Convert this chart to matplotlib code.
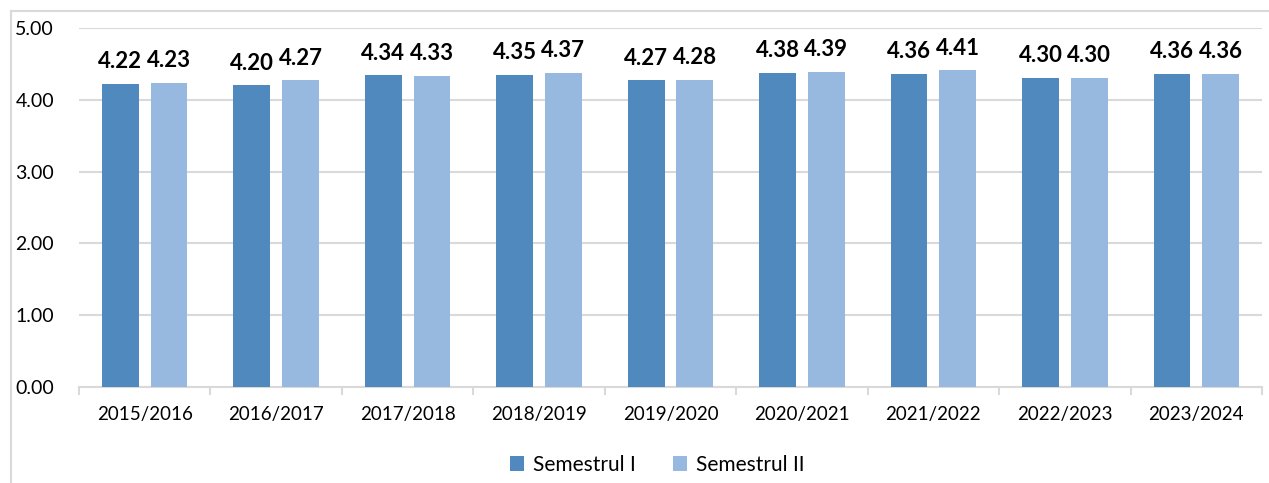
import matplotlib
matplotlib.use("Agg")
import matplotlib.pyplot as plt
from matplotlib.lines import Line2D
from matplotlib.patches import Patch
import numpy as np

categories = ["2015/2016", "2016/2017", "2017/2018", "2018/2019", "2019/2020",
              "2020/2021", "2021/2022", "2022/2023", "2023/2024"]
sem1 = [4.22, 4.20, 4.34, 4.35, 4.27, 4.38, 4.36, 4.30, 4.36]
sem2 = [4.23, 4.27, 4.33, 4.37, 4.28, 4.39, 4.41, 4.30, 4.36]
series_names = ["Semestrul I", "Semestrul II"]
yticks = [0.0, 1.0, 2.0, 3.0, 4.0, 5.0]

c1 = "#4F89BD"
c2 = "#98B9DF"
grid_c = "#D9D9D9"

plt.rcParams['font.family'] = ['Lato', 'DejaVu Sans']

fig = plt.figure(figsize=(12.69, 4.83), dpi=100)
ax = fig.add_axes([79/1269, 1-387/483, (1262-79)/1269, (387-28)/483])

x = np.arange(len(categories))
w = 0.28
off = 0.185
b1 = ax.bar(x - off, sem1, w, color=c1, zorder=3)
b2 = ax.bar(x + off, sem2, w, color=c2, zorder=3)

for bars, vals in ((b1, sem1), (b2, sem2)):
    for r, v in zip(bars, vals):
        ax.annotate(f"{v:.2f}", (r.get_x() + r.get_width()/2, v),
                    xytext=(0, 8.5), textcoords="offset points",
                    ha="center", va="bottom", fontsize=16, fontweight="bold",
                    color="black")

ax.set_xlim(-0.5, len(categories) - 0.5)
ax.set_ylim(0, 5)
ax.set_yticks(yticks)
ax.set_yticklabels([f"{t:.2f}" for t in yticks], fontsize=14)
ax.yaxis.grid(True, color=grid_c, linewidth=1.5, zorder=0)
ax.tick_params(axis='y', length=0, pad=18)

ax.set_xticks(x)
ax.set_xticklabels(categories, fontsize=13.5)
ax.set_xticks(np.arange(len(categories) + 1) - 0.5, minor=True)
ax.tick_params(axis='x', which='major', length=0, pad=14)
ax.tick_params(axis='x', which='minor', length=6, color=grid_c, width=1.5)

for s in ("top", "right", "left"):
    ax.spines[s].set_visible(False)
ax.spines["bottom"].set_color(grid_c)
ax.spines["bottom"].set_linewidth(1.5)

# chart-area border (partially visible)
fig.add_artist(Line2D([10.5/1269, 10.5/1269], [0, 1-10.5/483], transform=fig.transFigure,
                      color=grid_c, linewidth=1.5))
fig.add_artist(Line2D([10.5/1269, 1], [1-10.5/483, 1-10.5/483], transform=fig.transFigure,
                      color=grid_c, linewidth=1.5))

handles = [Patch(facecolor=c1), Patch(facecolor=c2)]
fig.legend(handles, series_names, loc="center", bbox_to_anchor=(657/1269, 1-465/483),
           ncol=2, frameon=False, fontsize=15, handlelength=0.7, handleheight=0.7,
           handletextpad=0.4, columnspacing=1.8)

fig.savefig("out.png", dpi=100)
